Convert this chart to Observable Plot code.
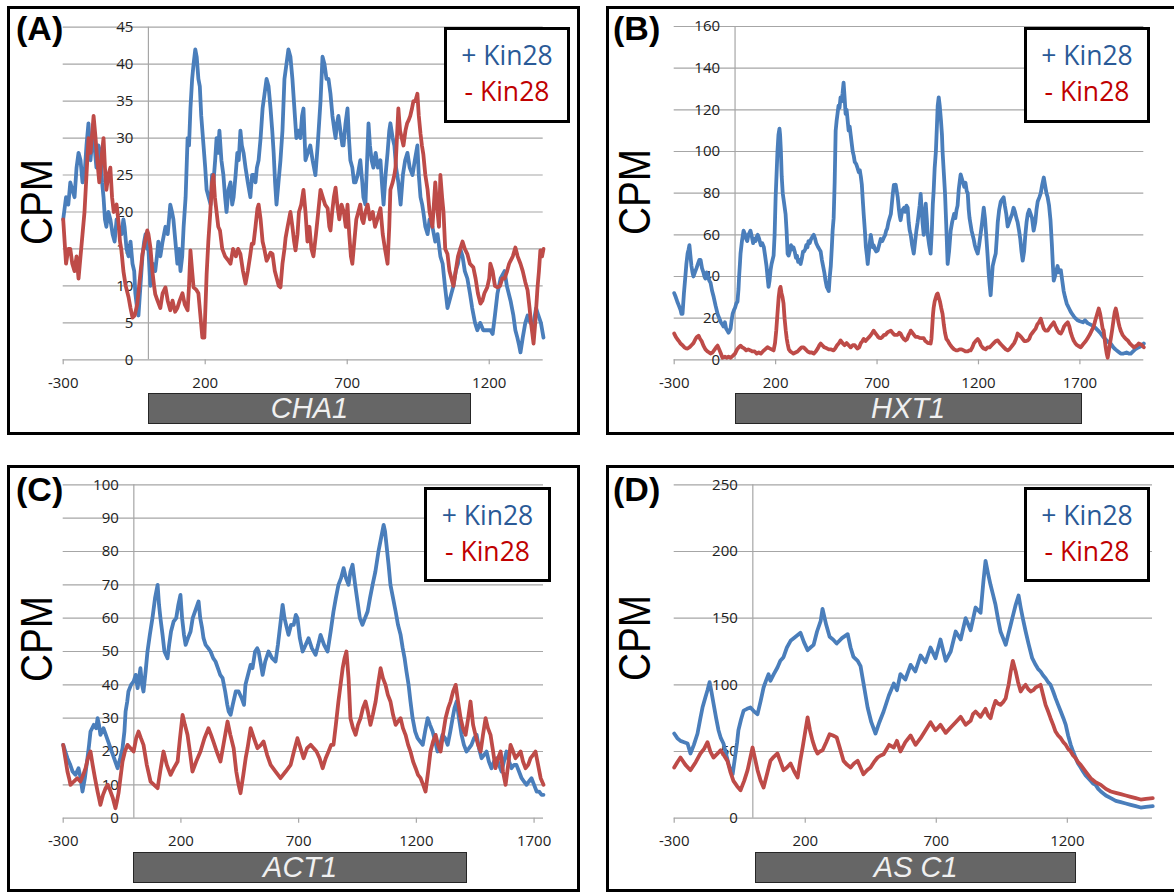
<!DOCTYPE html>
<html><head><meta charset="utf-8">
<script src="https://cdn.jsdelivr.net/npm/d3@7"></script>
<script src="https://cdn.jsdelivr.net/npm/@observablehq/plot@0.6"></script>
<style>
html,body{margin:0;padding:0;background:#fff;}
body{width:1174px;height:892px;overflow:hidden;position:relative;font-family:"Liberation Sans",Arial,sans-serif;}
.abs{position:absolute;}
.box{position:absolute;border:3px solid #000;box-sizing:border-box;pointer-events:none;}
.legend{position:absolute;border:3px solid #000;box-sizing:border-box;background:#fff;font-family:"Open Sans",sans-serif;font-size:26.5px;text-align:center;padding-top:7px;}
.legend div{line-height:36px;height:36px;white-space:nowrap;}
.gene{position:absolute;box-sizing:border-box;background:#666;border:1.5px solid #262626;color:#f0f0f0;font-style:italic;font-size:29px;display:flex;align-items:center;justify-content:center;font-family:"Liberation Sans",Arial,sans-serif;}
.letter{position:absolute;font-weight:bold;font-size:34px;line-height:34px;font-family:"Liberation Sans",Arial,sans-serif;}
.cpm{position:absolute;font-size:45px;line-height:45px;white-space:nowrap;font-family:"Liberation Sans",Arial,sans-serif;}
</style></head>
<body>
<script>
// ---------- data ----------
const seriesNames = ["+ Kin28", "- Kin28"];
const panelLetters = ["(A)", "(B)", "(C)", "(D)"];
const geneNames = ["CHA1", "HXT1", "ACT1", "AS C1"];

const aXDomain = [-300, 1390], aYDomain = [0, 45];
const aXTicks = [-300, 200, 700, 1200];
const aYTicks = [0, 5, 10, 15, 20, 25, 30, 35, 40, 45];
const aGene = [0, 1138];
const chaPlus = [[-300,19],[-290,22],[-282,21],[-275,24],[-268,23],[-260,22],[-253,26],[-246,28],[-239,27],[-232,24],[-225,25],[-218,29],[-211,32],[-204,27],[-197,30],[-190,29],[-183,26],[-176,29],[-169,28],[-163,24],[-158,22],[-153,19],[-148,18],[-141,20],[-134,19],[-126,17],[-119,16],[-112,19],[-105,18],[-95,17],[-88,19],[-84,18],[-77,15],[-70,14],[-63,16],[-56,13],[-50,12],[-46,9],[-40,7],[-35,6],[-28,10],[-21,14],[-15,16],[-10,17],[-4,15],[0,15],[7,10],[15,13],[24,12],[30,14],[35,16],[42,14],[50,16],[60,18],[68,17],[77,21],[83,20],[88,19],[95,16],[102,13],[108,15],[113,12],[119,14],[124,18],[131,22],[138,30],[143,29],[148,34],[154,38],[159,40],[165,42],[170,41],[176,38],[181,37],[186,33],[194,29],[200,26],[205,23],[212,22],[219,21],[224,25],[229,24],[235,27],[240,30],[245,28],[250,31],[257,27],[264,25],[270,22],[275,20],[282,23],[289,24],[295,21],[300,22],[307,25],[313,28],[318,27],[324,31],[329,29],[335,28],[342,26],[350,24],[359,22],[365,25],[370,25],[377,24],[382,26],[388,27],[395,30],[402,34],[409,36],[416,38],[423,37],[430,34],[436,31],[441,28],[446,24],[451,21],[458,24],[465,27],[472,31],[479,38],[486,40],[493,42],[500,41],[507,38],[514,34],[521,30],[528,31],[535,30],[541,33],[546,34],[553,27],[561,28],[570,29],[578,27],[588,25],[596,29],[606,35],[613,41],[620,40],[627,38],[634,38],[641,36],[648,33],[655,31],[659,30],[664,32],[669,33],[676,31],[683,29],[687,29],[694,32],[701,34],[706,30],[711,27],[718,26],[724,24],[729,24],[737,25],[746,27],[753,24],[757,22],[764,21],[770,27],[775,32],[780,29],[786,27],[792,26],[800,28],[808,26],[817,27],[822,24],[828,21],[835,25],[842,28],[848,31],[852,32],[860,30],[866,29],[872,26],[880,24],[888,21],[896,25],[904,27],[912,28],[920,26],[930,25],[938,27],[947,29],[952,25],[958,22],[964,21],[968,20],[975,18],[983,17],[990,19],[1000,18],[1010,16],[1018,17],[1028,14],[1036,13],[1044,10],[1053,7],[1060,8],[1067,9],[1074,10],[1082,12],[1090,13],[1098,15],[1106,14],[1114,12],[1123,11],[1132,9],[1140,7],[1150,5],[1158,4],[1168,5],[1179,4],[1190,4],[1204,4],[1212,3.5],[1220,6],[1229,9],[1240,11],[1254,12],[1262,10],[1275,8],[1285,6],[1292,4],[1299,3],[1305,2],[1310,1],[1318,3],[1327,5],[1335,6],[1345,5],[1356,5],[1365,7],[1373,6],[1382,5],[1391,3]];
const chaMinus = [[-300,19],[-295,16],[-290,13],[-282,15],[-275,15],[-268,13],[-260,12],[-253,14],[-246,11],[-239,14],[-232,17],[-225,20],[-218,25],[-211,30],[-204,28],[-197,31],[-193,33],[-186,30],[-180,27],[-173,24],[-166,27],[-158,30],[-153,26],[-148,23],[-141,25],[-134,26],[-128,22],[-122,20],[-112,21],[-105,18.5],[-100,16],[-95,14.8],[-88,12],[-80,10],[-70,8.5],[-63,7],[-56,5.7],[-48,6],[-39,7.6],[-30,11],[-21,14.3],[-12,16],[-4,17.5],[0,17],[7,15.2],[14,12],[20,10],[24,8.9],[32,8],[42,7],[50,9],[60,9.8],[68,8],[77,6.7],[85,8],[94,6.5],[102,7],[110,8],[120,9],[128,7.5],[138,6.7],[143,10],[148,14.8],[154,12],[159,9.8],[168,9.5],[176,9],[183,6],[190,3],[197,3],[205,11.6],[211,16],[218,20],[224,24],[229,25],[234,22],[240,20],[246,18],[252,17.5],[260,15],[270,14],[280,13.5],[289,13],[298,15],[308,14],[316,15],[324,14.3],[333,12],[342,10.3],[350,12],[358,14],[364,15.7],[370,15.7],[377,18],[384,20.5],[388,21],[395,19],[402,16],[408,15],[416,13.4],[424,14],[430,14.5],[437,14.3],[445,12],[452,11],[459,10],[465,9.8],[472,13],[479,15],[483,16.5],[490,18],[500,20],[507,18],[513,16],[518,14.8],[525,17],[530,20],[538,21],[546,23],[553,20],[560,16],[567,18],[574,15],[581,14],[590,17],[598,20],[606,23],[614,22],[622,21],[631,20.5],[637,18],[641,17.5],[647,20],[653,22],[659,23.3],[665,21],[672,19],[680,21],[688,20],[695,18],[701,21],[707,17],[713,14],[718,13],[725,16],[732,19],[739,20],[746,21],[752,19],[757,18.5],[764,20],[772,21],[780,19],[790,20],[798,18],[806,19],[817,20.5],[825,17],[833,15],[842,13],[848,18],[852,23],[860,24],[866,25],[870,26],[875,30],[880,34],[886,31],[892,30],[898,29],[905,31],[911,32],[916,32.4],[922,33],[928,34],[933,35],[940,35],[947,36],[952,33],[958,30.6],[963,29],[968,27.8],[975,25],[983,23],[990,20],[1000,18],[1010,24],[1018,20],[1023,18],[1028,25],[1034,22],[1039,20],[1045,15],[1053,14.3],[1060,12],[1067,11],[1074,10],[1082,12],[1090,14],[1098,15],[1106,16],[1114,15],[1123,14.3],[1132,13],[1144,12.5],[1152,11],[1160,9],[1169,7.6],[1176,8],[1183,9],[1193,9.8],[1200,11],[1204,13],[1212,12],[1220,10],[1229,9.8],[1238,10],[1246,11],[1254,11],[1263,12],[1270,13],[1275,13.4],[1283,14],[1292,15.2],[1300,14],[1310,13],[1318,12],[1327,10.5],[1335,9.4],[1342,7],[1347,5],[1352,3.5],[1356,2.2],[1362,5],[1370,9.8],[1375,12],[1380,14.8],[1386,14],[1391,15]];

const bXDomain = [-300, 2015], bYDomain = [0, 160];
const bXTicks = [-300, 200, 700, 1200, 1700];
const bYTicks = [0, 20, 40, 60, 80, 100, 120, 140, 160];
const bGene = [0, 1712];
const hxtPlus = [[-300,32],[-292,30],[-285,28],[-277,26],[-269,24],[-264,22],[-259,22],[-252,32],[-245,40],[-240,46],[-234,51],[-229,53],[-225,55],[-220,50],[-215,45],[-210,42],[-205,40],[-198,42],[-190,44],[-183,46],[-176,48],[-170,48],[-163,44],[-156,42],[-151,40],[-146,39],[-140,42],[-133,40],[-127,38],[-121,37],[-113,33],[-105,30],[-96,26],[-86,22],[-78,20],[-70,18],[-63,17],[-57,16],[-50,18],[-44,15],[-38,14],[-32,13],[-27,14],[-22,15],[-17,19],[-12,22],[-5,24],[0,25],[6,27],[12,28],[17,34],[20,40],[24,46],[27,51],[34,57],[42,62],[50,60],[55,58],[60,57],[66,60],[71,61],[76,62],[83,59],[89,56],[95,58],[101,57],[106,59],[112,60],[119,58],[127,55],[134,56],[142,54],[148,50],[155,45],[160,40],[165,35],[170,38],[175,43],[180,46],[185,48],[190,50],[195,60],[200,78],[205,90],[209,100],[214,108],[219,111],[222,108],[226,100],[230,88],[235,80],[242,75],[249,70],[254,62],[259,51],[264,50],[270,52],[276,55],[282,53],[288,54],[294,52],[300,49],[305,50],[311,47],[317,48],[323,46],[330,49],[335,52],[340,52],[346,53],[351,55],[357,54],[362,57],[368,56],[375,58],[381,59],[388,60],[395,58],[400,56],[405,55],[410,54],[416,53],[422,52],[428,48],[434,45],[440,42],[446,38],[452,35],[457,34],[462,33],[467,40],[472,45],[477,54],[481,62],[486,68],[491,85],[496,110],[501,115],[505,118],[510,122],[515,121],[520,126],[525,124],[530,128],[535,133],[540,126],[545,118],[550,120],[555,115],[560,110],[565,112],[570,108],[575,104],[580,100],[585,98],[590,95],[597,94],[604,92],[610,90],[615,91],[620,88],[625,84],[630,76],[634,70],[640,62],[645,54],[650,50],[654,46],[660,52],[664,56],[669,60],[674,57],[679,54],[683,55],[690,53],[696,52],[703,52.5],[710,55],[718,58],[726,57],[733,58.6],[740,60],[745,62],[750,63],[756,66],[762,68],[768,70],[773,75],[778,80],[783,84],[788,83],[792,84],[797,81],[802,78],[808,72],[812,69],[816,67],[821,70],[826,72],[833,73],[838,71],[845,74],[851,73],[856,66],[861,62],[866,60],[873,55],[881,51],[888,57],[894,62],[900,66],[905,70],[910,74],[915,79.6],[920,72],[925,65],[930,60],[935,70],[940,75],[945,68],[950,60],[957,55],[964,51],[970,62],[975,75],[979,81],[984,92],[990,100],[995,112],[999,122],[1004,126],[1009,122],[1015,115],[1020,108],[1023,100],[1029,90],[1035,80],[1041,65],[1048,46],[1055,52],[1063,62],[1070,66],[1075,68],[1080,70],[1086,68],[1092,72],[1097,74],[1103,82],[1108,86],[1112,89],[1118,87],[1124,85],[1130,83],[1136,85],[1142,81],[1147,80],[1152,72],[1156,68],[1161,65],[1166,62],[1171,60],[1176,58],[1182,55],[1188,53],[1196,51],[1203,55],[1210,60],[1218,66],[1226,73],[1232,68],[1238,60],[1245,50],[1250,42],[1255,36],[1260,31],[1265,38],[1270,45],[1277,48],[1285,51],[1290,58],[1295,66],[1302,72],[1310,76],[1317,77],[1324,78],[1330,74],[1337,70],[1344,64],[1351,66],[1358,68],[1366,70],[1373,73],[1380,71],[1387,68],[1393,66],[1400,62],[1406,58],[1412,52],[1418,47.6],[1425,52],[1431,60],[1437,66],[1443,70],[1450,72],[1457,70],[1464,68],[1472,62],[1480,66],[1486,72],[1492,76],[1500,78],[1507,80],[1514,84],[1522,87.5],[1528,84],[1535,80],[1541,78],[1548,74],[1555,67],[1562,55],[1567,45],[1571,38],[1577,40],[1584,43],[1590,45],[1597,42],[1606,43],[1613,38],[1620,33],[1627,30],[1635,27],[1645,25],[1655,23],[1662,22],[1669,21],[1677,20],[1689,19],[1700,18.5],[1715,18],[1725,19],[1738,17.6],[1750,17],[1760,16.5],[1768,16],[1780,15],[1790,14],[1803,12.6],[1815,11],[1830,9.5],[1840,8.5],[1852,7.8],[1865,6],[1875,5],[1888,4],[1901,3],[1915,3],[1930,3.5],[1941,3],[1951,3],[1962,4],[1972,5],[1980,5.5],[1990,6],[2000,6.5],[2008,7],[2015,7.8]];
const hxtMinus = [[-300,12.6],[-292,11],[-285,10],[-277,9],[-269,7.8],[-259,7],[-250,6],[-241,5.5],[-234,5.4],[-225,6],[-215,7],[-205,8],[-195,10],[-188,11],[-180,11.6],[-172,10],[-165,9],[-156,6.8],[-146,5],[-136,4],[-128,3.5],[-121,3],[-111,3.5],[-100,5],[-93,6],[-86,6.8],[-78,5],[-70,3],[-62,1],[-50,1.5],[-40,1],[-32,1.5],[-22,1],[-10,2],[0,3],[10,5],[18,6],[27,6.8],[35,6],[45,5.5],[55,4.5],[65,5],[76,4.5],[86,4],[97,4],[107,3],[117,3.5],[127,3],[137,4],[148,5],[160,6],[170,5.5],[180,5],[190,4.5],[197,8],[203,14],[209,22],[215,30],[220,34],[224,35],[229,32],[234,30],[239,27],[244,20],[250,14],[255,10],[259,7.8],[265,5],[273,4],[280,3.5],[288,3],[298,3.5],[308,4],[318,5],[328,6],[338,6],[348,5],[358,4],[368,3.5],[378,3.5],[388,3],[398,4],[408,5.5],[416,7],[422,7.8],[430,7],[440,6],[452,5.5],[462,5],[474,5],[486,4.5],[494,5.5],[503,7],[512,8],[520,9.3],[530,8],[540,7],[550,8],[560,7],[570,6],[580,7],[590,7],[598,6],[604,5.4],[612,6],[620,8],[628,9],[634,10],[643,9],[652,10],[662,11],[670,12],[677,13],[683,14],[690,13],[698,12],[705,11],[712,10.5],[718,10.4],[726,11],[735,12],[742,12],[750,13],[758,13.5],[768,14],[776,13],[785,12],[794,12],[802,12],[809,13],[816,12.6],[824,11],[832,10],[840,9.3],[848,10],[856,12],[862,13],[866,14],[874,13],[882,12],[890,11],[900,11],[910,10.5],[920,10.4],[930,10.4],[938,9],[945,8.5],[951,8],[958,8],[964,7.8],[968,10],[972,16],[976,22],[979,25],[984,28],[990,30],[995,31.5],[999,31.8],[1004,30],[1010,28],[1016,25],[1023,22],[1029,17],[1035,13],[1042,10],[1048,9.3],[1055,8],[1062,7],[1070,6],[1080,5],[1090,4.5],[1097,4.5],[1107,5],[1117,5],[1127,4.5],[1137,4],[1147,4],[1155,4.5],[1161,4.5],[1170,6],[1178,8],[1186,9],[1196,10],[1204,9],[1212,7],[1219,6],[1226,5.4],[1235,5],[1245,6],[1255,6],[1265,7],[1275,8],[1285,9],[1295,9.3],[1305,8],[1315,7],[1325,6],[1335,5],[1344,4.5],[1352,5],[1360,6],[1368,7],[1376,8],[1385,10],[1393,12.6],[1400,12],[1410,11],[1418,10],[1426,9],[1435,9],[1443,9.3],[1450,10],[1458,12],[1466,13],[1474,14],[1482,15],[1490,17],[1498,18],[1507,19.7],[1515,17],[1522,15],[1530,14],[1541,14],[1548,15],[1555,16],[1563,17],[1571,18],[1580,16],[1590,14],[1598,13],[1606,12.6],[1614,14],[1622,16],[1630,17],[1640,18],[1648,16],[1655,13],[1662,11],[1669,9.3],[1677,8],[1686,7],[1695,6.5],[1704,6],[1712,7],[1720,8],[1729,9],[1738,10.4],[1748,12],[1758,14],[1768,16],[1776,19],[1785,22],[1793,24.6],[1800,22],[1807,18],[1812,15],[1817,14],[1822,10],[1827,6],[1832,3],[1837,1],[1842,4],[1847,7],[1852,10],[1860,15],[1867,20],[1872,23],[1877,24.6],[1883,22],[1890,18],[1895,16],[1901,14],[1910,12],[1918,11],[1927,10],[1936,9.3],[1945,8],[1955,7],[1966,6],[1975,6.5],[1983,7],[1990,7.8],[1998,7.5],[2006,7],[2015,6]];

const cXDomain = [-300, 1740], cYDomain = [0, 100];
const cXTicks = [-300, 200, 700, 1200, 1700];
const cYTicks = [0, 10, 20, 30, 40, 50, 60, 70, 80, 90, 100];
const cGene = [0, 1417];
const actPlus = [[-300,22],[-291,20],[-282,18],[-270,16],[-260,14],[-248,13],[-235,15],[-226,12],[-218,8],[-208,12],[-197,18],[-190,22],[-184,26],[-170,28],[-160,27],[-154,30],[-148,28],[-142,25],[-135,26],[-129,27],[-114,24],[-99,21],[-84,18],[-69,15],[-58,18],[-48,21],[-40,26],[-35,32],[-28,35],[-23,38],[-12,40],[-1,41],[8,43],[16,39],[22,42],[28,45],[35,40],[41,38],[50,44],[58,50],[68,55],[79,60],[90,66],[101,70],[107,64],[113,60],[122,55],[130,50],[143,48],[150,52],[158,56],[169,59],[180,60],[189,64],[198,67],[205,60],[213,55],[220,52],[230,54],[241,56],[250,60],[260,62],[275,65],[282,60],[290,57],[296,54],[305,52],[316,51],[326,50],[337,48],[347,47],[357,45],[367,43],[377,42],[388,38],[397,34],[403,32],[411,31],[420,34],[433,38],[445,38],[458,36],[468,34],[474,40],[485,43],[496,46],[504,45],[515,50],[524,51],[530,50],[540,46],[547,43],[558,47],[572,50],[587,48],[602,47],[612,52],[622,58],[632,64],[640,60],[650,57],[657,55],[668,58],[679,58],[688,61],[695,60],[705,54],[717,50],[730,52],[742,54],[756,51],[772,49],[783,52],[793,55],[808,52],[823,50],[836,56],[848,62],[858,66],[869,70],[880,72],[891,75],[901,72],[912,70],[920,74],[929,76],[940,70],[950,65],[960,60],[971,58],[982,60],[993,62],[1003,66],[1014,70],[1026,74],[1039,80],[1050,84],[1061,88],[1067,86],[1073,82],[1082,76],[1090,70],[1101,66],[1112,62],[1122,58],[1133,55],[1142,51],[1150,48],[1158,44],[1167,40],[1175,35],[1184,30],[1195,26],[1205,24],[1216,23],[1227,22],[1237,26],[1248,30],[1258,28],[1269,26],[1280,23],[1290,20],[1300,22],[1311,25],[1322,24],[1333,22],[1344,26],[1354,30],[1362,33],[1371,35],[1381,30],[1392,25],[1402,22],[1413,20],[1424,21],[1434,22],[1445,24],[1456,25],[1466,21],[1477,18],[1488,19],[1498,20],[1508,17],[1519,15],[1530,17],[1541,18],[1551,16],[1562,14],[1572,17],[1583,20],[1594,17],[1604,15],[1615,16],[1625,16],[1636,14],[1647,12],[1657,11],[1668,10],[1678,11],[1689,12],[1700,10],[1711,8],[1721,8],[1732,7],[1740,7]];
const actMinus = [[-300,22],[-291,18],[-282,14],[-275,12],[-269,10],[-255,11],[-240,12],[-227,11],[-215,13],[-205,15],[-195,18],[-184,20],[-175,16],[-165,12],[-154,8],[-148,6],[-142,4],[-131,7],[-120,9],[-110,10],[-99,8],[-89,6],[-78,3],[-72,5],[-65,7.5],[-57,12],[-48,17],[-38,20],[-27,22],[-14,21],[-1,20],[10,24],[20,26],[30,24],[41,22],[55,16],[71,11],[86,10],[101,9],[112,14],[126,20],[140,16],[156,13],[170,15],[186,17],[196,24],[207,31],[217,28],[228,25],[238,20],[249,14],[265,17],[283,20],[300,24],[317,27],[328,25],[338,23],[352,20],[368,17],[383,23],[398,29],[410,25],[424,21],[435,14],[445,10],[453,7.5],[465,13],[475,18],[483,21],[496,27],[510,24],[525,21],[540,22],[551,23],[566,19],[581,16],[602,14],[623,12],[645,14],[666,16],[680,20],[695,24],[708,21],[721,18],[736,21],[751,22],[764,21],[776,20],[789,18],[802,15],[815,18],[827,20],[838,22],[848,22],[858,28],[869,35],[878,40],[887,45],[895,48],[903,50],[912,42],[920,30],[931,27],[942,25],[952,28],[963,30],[973,33],[984,35],[994,32],[1005,28],[1015,31],[1027,35],[1037,40],[1048,45],[1058,42],[1069,40],[1079,37],[1090,35],[1101,31],[1112,28],[1122,29],[1133,30],[1143,27],[1154,25],[1165,22],[1175,20],[1186,17],[1197,15],[1207,13],[1218,12],[1229,10],[1239,8],[1250,14],[1260,20],[1271,23],[1282,25],[1292,22],[1303,20],[1313,25],[1324,30],[1335,33],[1345,35],[1356,38],[1367,40],[1377,35],[1388,30],[1398,27],[1409,25],[1420,30],[1430,35],[1441,28],[1451,25],[1462,22],[1473,20],[1483,25],[1494,30],[1504,27],[1515,25],[1526,20],[1536,15],[1547,18],[1558,20],[1568,14],[1579,10],[1590,16],[1600,22],[1611,20],[1621,18],[1632,19],[1643,20],[1653,17],[1664,15],[1675,16],[1685,18],[1696,19],[1706,20],[1717,16],[1728,12],[1740,10]];

const dXDomain = [-300, 1525], dYDomain = [0, 250];
const dXTicks = [-300, 200, 700, 1200];
const dYTicks = [0, 50, 100, 150, 200, 250];
const dGene = [12, 1235];
const ascPlus = [[-300,63.5],[-288,60],[-276,58],[-262,57],[-249,56],[-238,48.5],[-225,55],[-211,63.5],[-200,75],[-192,83],[-182,90],[-173,96],[-165,102],[-158,95],[-150,86],[-140,75],[-131,66],[-122,60],[-112,56],[-102,48],[-93,41],[-85,36],[-77,33],[-72,40],[-66,48.5],[-60,57],[-55,66],[-45,74],[-35,80.7],[-22,82],[-9,83],[5,80],[18,78],[30,88],[41,98],[50,103],[60,108],[67,103],[80,108],[94,113],[105,118],[117,120.7],[130,128],[144,133],[163,136],[182,139],[195,132],[209,126],[220,128],[232,130],[245,140],[259,148],[266,157],[280,145],[293,136],[306,134],[320,131],[340,135],[362,138],[373,128],[384,121],[400,118],[411,114],[425,98],[438,83],[452,72],[468,63.5],[483,72],[499,80],[519,92],[538,101],[550,96],[563,108],[582,104],[602,115],[620,110],[640,122],[659,117],[678,128],[697,120],[716,134],[736,118],[755,125],[774,140],[793,134],[812,150],[831,141],[850,158],[869,154],[880,178],[888,193],[897,184],[907,175],[916,168],[926,160],[935,150],[945,140],[955,135],[965,130],[975,138],[984,145],[994,153],[1003,160],[1014,167],[1022,158],[1030,150],[1041,140],[1053,130],[1066,120],[1079,115],[1088,112],[1098,110],[1108,107],[1117,105],[1127,102],[1136,100],[1146,95],[1155,90],[1165,85],[1175,80],[1185,75],[1194,70],[1203,62],[1213,55],[1222,50],[1232,45],[1241,41],[1251,38],[1260,35],[1270,32],[1280,30],[1289,28],[1298,26],[1308,25],[1318,22],[1328,20],[1347,17],[1366,15],[1385,13],[1404,12],[1423,11],[1442,10],[1461,9],[1480,8],[1500,8.5],[1526,9]];
const ascMinus = [[-300,38],[-288,42],[-276,45.5],[-257,40],[-238,36],[-218,42],[-200,48.5],[-186,52],[-173,57],[-162,50],[-150,45.5],[-137,48],[-123,51],[-110,47],[-97,43],[-86,35],[-74,28],[-60,24],[-47,21],[-33,28],[-20,36],[-10,45],[-1,53],[8,45],[18,36],[30,28],[41,23],[54,33],[67,43],[80,46],[94,48.5],[106,42],[117,36],[130,38],[144,41],[158,35],[171,30.5],[180,42],[190,53],[200,65],[209,75.6],[218,66],[228,58],[238,52],[247,48.5],[256,50],[266,51],[280,57],[293,63],[306,62],[320,60.6],[333,52],[346,43],[360,40],[373,38],[386,41],[400,43],[411,38],[422,33],[436,36],[449,38],[462,42],[476,45.5],[488,47],[499,48],[520,55],[538,53],[550,58],[563,50],[582,57],[602,62],[621,55],[640,60],[659,66],[678,72],[697,66],[716,70],[736,64],[755,68],[774,72],[793,76],[812,70],[831,73],[840,78],[850,80],[869,76],[888,82],[898,77],[907,75],[916,82],[926,88],[935,86],[945,85],[955,87],[965,90],[970,95],[976,100],[984,110],[992,118],[1003,110],[1012,102],[1022,95],[1032,98],[1041,100],[1050,97],[1060,95],[1070,96],[1079,98],[1089,99],[1098,100],[1108,92],[1117,85],[1127,80],[1136,75],[1146,70],[1155,65],[1165,62],[1175,60],[1185,57],[1194,55],[1203,52],[1213,50],[1222,47],[1232,45],[1241,42],[1251,40],[1270,35],[1289,30],[1308,27],[1328,25],[1347,22],[1366,20],[1385,19],[1404,18],[1423,17],[1442,16],[1461,15],[1480,14],[1500,14.5],[1526,15]];

// ---------- styles & layout ----------
const blue = "#4A7EBB", red = "#BE4B48", gridColor = "#a6a6a6";
const legendColors = ["#2a5a97", "#c00000"];
const panels = [
  {letter: panelLetters[0], gene: geneNames[0], plus: chaPlus, minus: chaMinus, xDomain: aXDomain, yDomain: aYDomain, xTicks: aXTicks, yTicks: aYTicks, geneSpan: aGene,
   box: [7, 6, 573, 429], plot: [62.7, 26.7, 542.7, 359.3], legend: [444, 27, 126, 96], bar: [393, 31], cpm: [36, 202], lpos: [16, 10.5]},
  {letter: panelLetters[1], gene: geneNames[1], plus: hxtPlus, minus: hxtMinus, xDomain: bXDomain, yDomain: bYDomain, xTicks: bXTicks, yTicks: bYTicks, geneSpan: bGene,
   box: [606, 6, 572, 429], plot: [673.7, 26, 1143.3, 359.3], legend: [1024, 27, 126, 96], bar: [393, 31], cpm: [633.5, 191.5], lpos: [613, 10.5]},
  {letter: panelLetters[2], gene: geneNames[2], plus: actPlus, minus: actMinus, xDomain: cXDomain, yDomain: cYDomain, xTicks: cXTicks, yTicks: cYTicks, geneSpan: cGene,
   box: [7, 465, 573, 427], plot: [62.7, 484.3, 543, 817.7], legend: [424, 487, 127, 95], bar: [852, 31], cpm: [36, 638.5], lpos: [16, 471.5]},
  {letter: panelLetters[3], gene: geneNames[3], plus: ascPlus, minus: ascMinus, xDomain: dXDomain, yDomain: dYDomain, xTicks: dXTicks, yTicks: dYTicks, geneSpan: dGene,
   box: [606, 465, 572, 427], plot: [673.7, 484.3, 1152, 817.7], legend: [1024, 487, 126, 95], bar: [852, 31], cpm: [633.5, 637.5], lpos: [613, 471.5]}
];

function el(tag, cls, css, text) {
  const e = document.createElement(tag);
  if (cls) e.className = cls;
  if (css) e.style.cssText = css;
  if (text != null) e.textContent = text;
  document.body.appendChild(e);
  return e;
}

for (const p of panels) {
  const [bl, bt, bw, bh] = p.box;
  const [pl, pt, pr, pb] = p.plot;
  const y0 = p.yDomain[0];
  const chart = Plot.plot({
    width: bw, height: bh,
    marginLeft: pl - bl, marginRight: bl + bw - pr, marginTop: pt - bt, marginBottom: bt + bh - pb,
    x: {domain: p.xDomain, axis: null},
    y: {domain: p.yDomain, axis: null},
    style: {background: "transparent", overflow: "visible"},
    marks: [
      Plot.ruleY(p.yTicks, {y: d => d, stroke: gridColor, strokeWidth: 1.2}),
      Plot.ruleX([0], {x: d => d, stroke: gridColor, strokeWidth: 1.2}),
      Plot.ruleX(p.xTicks, {x: d => d, y1: y0, y2: y0, insetBottom: -5, stroke: gridColor, strokeWidth: 1.2}),
      Plot.text(p.yTicks, {x: d => 0, y: d => d, text: d => String(d), textAnchor: "end", dx: -15, fontSize: 15, fontFamily: "Open Sans", fill: "#222"}),
      Plot.text(p.xTicks, {x: d => d, y: d => y0, text: d => String(d), dy: 23, fontSize: 15, fontFamily: "Open Sans", fill: "#222"}),
      Plot.line(p.plus, {x: d => d[0], y: d => d[1], stroke: blue, strokeWidth: 3.8, strokeLinejoin: "round", strokeLinecap: "round"}),
      Plot.line(p.minus, {x: d => d[0], y: d => d[1], stroke: red, strokeWidth: 3.8, strokeLinejoin: "round", strokeLinecap: "round"})
    ]
  });
  const wrap = el("div", "abs", `left:${bl}px;top:${bt}px;width:${bw}px;height:${bh}px;`);
  wrap.appendChild(chart);

  // gene bar positioned from the x scale
  const xs = chart.scale("x");
  const gx0 = bl + xs.apply(p.geneSpan[0]), gx1 = bl + xs.apply(p.geneSpan[1]);
  el("div", "gene", `left:${gx0}px;top:${p.bar[0]}px;width:${gx1 - gx0}px;height:${p.bar[1]}px;`, p.gene);

  // legend
  const [lx, ly, lw, lh] = p.legend;
  const lg = el("div", "legend", `left:${lx}px;top:${ly}px;width:${lw}px;height:${lh}px;`);
  seriesNames.forEach((n, i) => {
    const d = document.createElement("div");
    d.textContent = n;
    d.style.color = legendColors[i];
    lg.appendChild(d);
  });

  // letter and axis title
  el("div", "letter", `left:${p.lpos[0]}px;top:${p.lpos[1]}px;`, p.letter);
  el("div", "cpm", `left:${p.cpm[0]}px;top:${p.cpm[1]}px;transform:translate(-50%,-50%) rotate(-90deg) scaleX(0.86);`, "CPM");

  // panel frame
  el("div", "box", `left:${bl}px;top:${bt}px;width:${bw}px;height:${bh}px;`);
}
</script>
</body></html>
